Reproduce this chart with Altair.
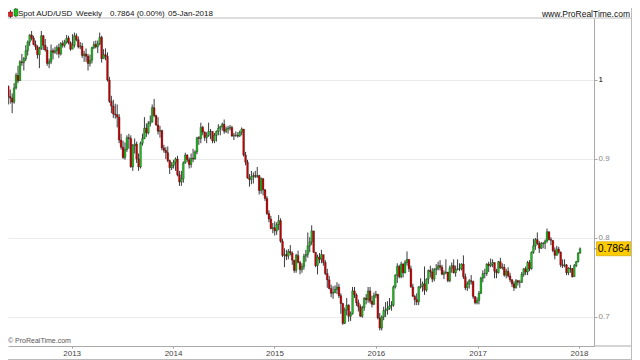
import altair as alt
import pandas as pd

# ---------------- weekly AUD/USD candles ----------------
c2012 = [0.9790, 0.9770, 0.9720, 0.9900, 1.0060, 0.9990, 1.0230, 1.0220, 1.0270, 1.0370, 1.0480,
         1.0570, 1.0530, 1.0450, 1.0420, 1.0320, 1.0400, 1.0560, 1.0440, 1.0380, 1.0210, 1.0230,
         1.0370, 1.0350, 1.0370, 1.0410, 1.0330, 1.0460, 1.0440, 1.0480, 1.0530, 1.0470, 1.0390]
h2012 = [0.9930, 0.9880, 0.9830, 0.9960, 1.0090, 1.0180, 1.0250, 1.0330, 1.0290, 1.0440, 1.0500,
         1.0580, 1.0620, 1.0560, 1.0500, 1.0440, 1.0420, 1.0620, 1.0570, 1.0520, 1.0420, 1.0270,
         1.0450, 1.0400, 1.0420, 1.0440, 1.0460, 1.0480, 1.0500, 1.0510, 1.0570, 1.0560, 1.0490]
l2012 = [0.9690, 0.9700, 0.9580, 0.9700, 0.9880, 0.9960, 0.9990, 1.0180, 1.0120, 1.0240, 1.0310,
         1.0430, 1.0500, 1.0440, 1.0380, 1.0270, 1.0150, 1.0380, 1.0380, 1.0360, 1.0180, 1.0150,
         1.0200, 1.0260, 1.0330, 1.0320, 1.0280, 1.0310, 1.0410, 1.0410, 1.0460, 1.0450, 1.0370]

c2013 = [1.0440, 1.0560, 1.0510, 1.0420, 1.0430, 1.0310, 1.0330, 1.0300, 1.0210, 1.0250, 1.0410,
         1.0450, 1.0420, 1.0460, 1.0540, 1.0270, 1.0320, 1.0300, 1.0000, 0.9730, 0.9670, 0.9570,
         0.9560, 0.9530, 0.9240, 0.9150, 0.9020, 0.9120, 0.9270, 0.9260, 0.8900, 0.9170, 0.9190,
         0.9000, 0.8900, 0.9200, 0.9260, 0.9390, 0.9330, 0.9450, 0.9470, 0.9650, 0.9550, 0.9430,
         0.9350, 0.9360, 0.9140, 0.9110, 0.9080, 0.8980, 0.8890, 0.8920]
h2013 = [1.0580, 1.0600, 1.0590, 1.0550, 1.0480, 1.0470, 1.0370, 1.0400, 1.0330, 1.0320, 1.0420,
         1.0490, 1.0500, 1.0500, 1.0600, 1.0560, 1.0390, 1.0400, 1.0350, 1.0040, 0.9800, 0.9750,
         0.9700, 0.9690, 0.9570, 0.9320, 0.9230, 0.9210, 0.9300, 0.9320, 0.9300, 0.9190, 0.9260,
         0.9220, 0.9070, 0.9220, 0.9320, 0.9530, 0.9450, 0.9480, 0.9550, 0.9690, 0.9760, 0.9560,
         0.9530, 0.9420, 0.9370, 0.9180, 0.9150, 0.9160, 0.8990, 0.8960]
l2013 = [1.0390, 1.0410, 1.0490, 1.0400, 1.0390, 1.0280, 1.0230, 1.0230, 1.0120, 1.0170, 1.0210,
         1.0390, 1.0400, 1.0340, 1.0440, 1.0220, 1.0270, 1.0250, 0.9980, 0.9710, 0.9580, 0.9520,
         0.9510, 0.9400, 0.9200, 0.9120, 0.9000, 0.8990, 0.9090, 0.9130, 0.8890, 0.8850, 0.9070,
         0.8950, 0.8850, 0.8880, 0.9170, 0.9250, 0.9280, 0.9310, 0.9410, 0.9460, 0.9530, 0.9420,
         0.9310, 0.9270, 0.9110, 0.9080, 0.9000, 0.8960, 0.8810, 0.8860]

c2014 = [0.8960, 0.9000, 0.8800, 0.8710, 0.8750, 0.8950, 0.9050, 0.8990, 0.8930, 0.9010, 0.9000,
         0.9090, 0.9270, 0.9260, 0.9400, 0.9340, 0.9270, 0.9300, 0.9350, 0.9350, 0.9230, 0.9300,
         0.9350, 0.9390, 0.9410, 0.9440, 0.9350, 0.9380, 0.9390, 0.9400, 0.9290, 0.9300, 0.9300,
         0.9290, 0.9340, 0.9380, 0.9050, 0.8960, 0.8760, 0.8740, 0.8780, 0.8790, 0.8780, 0.8790,
         0.8600, 0.8750, 0.8610, 0.8500, 0.8310, 0.8240, 0.8120, 0.8130]
h2014 = [0.8990, 0.9020, 0.9040, 0.8850, 0.8850, 0.8970, 0.9080, 0.9060, 0.9020, 0.9070, 0.9130,
         0.9110, 0.9280, 0.9290, 0.9460, 0.9420, 0.9350, 0.9340, 0.9460, 0.9380, 0.9350, 0.9330,
         0.9360, 0.9440, 0.9420, 0.9460, 0.9500, 0.9410, 0.9420, 0.9430, 0.9420, 0.9330, 0.9350,
         0.9340, 0.9360, 0.9400, 0.9380, 0.9090, 0.8990, 0.8810, 0.8850, 0.8830, 0.8850, 0.8900,
         0.8800, 0.8770, 0.8760, 0.8620, 0.8530, 0.8350, 0.8280, 0.8190]
l2014 = [0.8880, 0.8850, 0.8780, 0.8660, 0.8660, 0.8700, 0.8940, 0.8960, 0.8880, 0.8890, 0.8960,
         0.8990, 0.9060, 0.9180, 0.9200, 0.9300, 0.9230, 0.9200, 0.9280, 0.9250, 0.9200, 0.9200,
         0.9220, 0.9300, 0.9300, 0.9360, 0.9320, 0.9330, 0.9320, 0.9360, 0.9280, 0.9240, 0.9280,
         0.9270, 0.9280, 0.9300, 0.9030, 0.8920, 0.8750, 0.8650, 0.8680, 0.8690, 0.8760, 0.8760,
         0.8550, 0.8560, 0.8540, 0.8470, 0.8290, 0.8200, 0.8110, 0.8060]

c2015 = [0.8090, 0.8170, 0.8220, 0.7960, 0.7780, 0.7790, 0.7770, 0.7830, 0.7810, 0.7720, 0.7590,
         0.7780, 0.7690, 0.7600, 0.7640, 0.7770, 0.7790, 0.7900, 0.7950, 0.8090, 0.7820, 0.7650,
         0.7760, 0.7730, 0.7790, 0.7690, 0.7550, 0.7470, 0.7360, 0.7300, 0.7310, 0.7350, 0.7380,
         0.7270, 0.7170, 0.6920, 0.7090, 0.7150, 0.7010, 0.7040, 0.7330, 0.7280, 0.7180, 0.7130,
         0.7010, 0.7120, 0.7240, 0.7220, 0.7330, 0.7200, 0.7160, 0.7270]
h2015 = [0.8210, 0.8200, 0.8290, 0.8250, 0.7990, 0.7870, 0.7850, 0.7860, 0.7910, 0.7830, 0.7720,
         0.7800, 0.7840, 0.7710, 0.7680, 0.7800, 0.7850, 0.8070, 0.8010, 0.8160, 0.8090, 0.7820,
         0.7790, 0.7810, 0.7850, 0.7780, 0.7720, 0.7610, 0.7520, 0.7410, 0.7390, 0.7400, 0.7440,
         0.7420, 0.7300, 0.7180, 0.7120, 0.7240, 0.7160, 0.7070, 0.7380, 0.7380, 0.7300, 0.7220,
         0.7160, 0.7140, 0.7250, 0.7290, 0.7380, 0.7380, 0.7270, 0.7310]
l2015 = [0.8030, 0.8040, 0.8100, 0.7940, 0.7760, 0.7630, 0.7720, 0.7730, 0.7780, 0.7660, 0.7560,
         0.7560, 0.7680, 0.7540, 0.7560, 0.7600, 0.7700, 0.7750, 0.7820, 0.7910, 0.7810, 0.7630,
         0.7540, 0.7680, 0.7680, 0.7650, 0.7530, 0.7370, 0.7350, 0.7250, 0.7230, 0.7300, 0.7290,
         0.7240, 0.7040, 0.6900, 0.6910, 0.7020, 0.6940, 0.6950, 0.7030, 0.7240, 0.7140, 0.7070,
         0.7000, 0.6990, 0.7080, 0.7160, 0.7180, 0.7170, 0.7120, 0.7150]

c2016 = [0.7290, 0.6990, 0.6860, 0.7000, 0.7080, 0.7090, 0.7110, 0.7140, 0.7150, 0.7380, 0.7530,
         0.7640, 0.7510, 0.7670, 0.7560, 0.7690, 0.7730, 0.7610, 0.7380, 0.7260, 0.7220, 0.7190,
         0.7380, 0.7390, 0.7420, 0.7340, 0.7480, 0.7590, 0.7570, 0.7480, 0.7600, 0.7610, 0.7650,
         0.7630, 0.7540, 0.7560, 0.7570, 0.7460, 0.7620, 0.7650, 0.7560, 0.7600, 0.7610, 0.7610,
         0.7670, 0.7510, 0.7370, 0.7420, 0.7460, 0.7450, 0.7260, 0.7180, 0.7210]
h2016 = [0.7330, 0.7280, 0.7050, 0.7020, 0.7130, 0.7190, 0.7200, 0.7240, 0.7200, 0.7400, 0.7540,
         0.7680, 0.7660, 0.7700, 0.7680, 0.7720, 0.7830, 0.7720, 0.7650, 0.7420, 0.7280, 0.7300,
         0.7390, 0.7490, 0.7450, 0.7640, 0.7490, 0.7600, 0.7650, 0.7620, 0.7620, 0.7670, 0.7700,
         0.7720, 0.7660, 0.7590, 0.7730, 0.7570, 0.7650, 0.7690, 0.7730, 0.7650, 0.7730, 0.7680,
         0.7680, 0.7780, 0.7550, 0.7450, 0.7480, 0.7530, 0.7460, 0.7260, 0.7250]
l2016 = [0.7240, 0.6970, 0.6830, 0.6830, 0.6960, 0.7000, 0.7030, 0.7090, 0.7080, 0.7130, 0.7360,
         0.7430, 0.7490, 0.7490, 0.7500, 0.7550, 0.7650, 0.7570, 0.7370, 0.7260, 0.7150, 0.7150,
         0.7150, 0.7360, 0.7320, 0.7280, 0.7320, 0.7420, 0.7500, 0.7440, 0.7450, 0.7530, 0.7590,
         0.7590, 0.7530, 0.7480, 0.7540, 0.7440, 0.7440, 0.7560, 0.7550, 0.7510, 0.7590, 0.7580,
         0.7590, 0.7480, 0.7340, 0.7330, 0.7360, 0.7410, 0.7230, 0.7160, 0.7160]

c2017 = [0.7300, 0.7490, 0.7550, 0.7550, 0.7670, 0.7650, 0.7670, 0.7690, 0.7580, 0.7560, 0.7700,
         0.7620, 0.7630, 0.7530, 0.7580, 0.7520, 0.7470, 0.7420, 0.7370, 0.7460, 0.7440, 0.7440,
         0.7540, 0.7610, 0.7570, 0.7690, 0.7610, 0.7820, 0.7900, 0.7980, 0.7930, 0.7870, 0.7930,
         0.7930, 0.7960, 0.8080, 0.7980, 0.7970, 0.7840, 0.7780, 0.7860, 0.7820, 0.7660, 0.7650,
         0.7660, 0.7560, 0.7620, 0.7610, 0.7510, 0.7650, 0.7700, 0.7810]
h2017 = [0.7330, 0.7510, 0.7590, 0.7610, 0.7680, 0.7700, 0.7740, 0.7730, 0.7690, 0.7610, 0.7710,
         0.7750, 0.7680, 0.7670, 0.7610, 0.7630, 0.7560, 0.7480, 0.7450, 0.7480, 0.7470, 0.7470,
         0.7570, 0.7620, 0.7640, 0.7710, 0.7720, 0.7830, 0.7990, 0.8000, 0.8070, 0.7960, 0.7950,
         0.7950, 0.7980, 0.8120, 0.8080, 0.8010, 0.7970, 0.7880, 0.7900, 0.7890, 0.7830, 0.7730,
         0.7730, 0.7670, 0.7630, 0.7660, 0.7620, 0.7670, 0.7710, 0.7820]
l2017 = [0.7160, 0.7290, 0.7440, 0.7490, 0.7520, 0.7570, 0.7630, 0.7630, 0.7490, 0.7490, 0.7550,
         0.7610, 0.7600, 0.7510, 0.7490, 0.7500, 0.7440, 0.7380, 0.7330, 0.7360, 0.7400, 0.7370,
         0.7430, 0.7510, 0.7530, 0.7530, 0.7580, 0.7600, 0.7800, 0.7850, 0.7910, 0.7810, 0.7860,
         0.7870, 0.7860, 0.7940, 0.7970, 0.7910, 0.7820, 0.7730, 0.7780, 0.7800, 0.7630, 0.7620,
         0.7630, 0.7530, 0.7530, 0.7560, 0.7500, 0.7510, 0.7630, 0.7690]

c2018 = [0.7864]
h2018 = [0.7880]
l2018 = [0.7800]

first_open = 0.9920
closes = c2012 + c2013 + c2014 + c2015 + c2016 + c2017 + c2018
highs = h2012 + h2013 + h2014 + h2015 + h2016 + h2017 + h2018
lows = l2012 + l2013 + l2014 + l2015 + l2016 + l2017 + l2018
opens = [first_open] + closes[:-1]
dates = pd.date_range("2012-05-18", "2018-01-05", freq="W-FRI")

df = pd.DataFrame({"date": dates, "open": opens, "high": highs, "low": lows, "close": closes})

# labels
title_parts = ["Spot AUD/USD", "Weekly", f"{closes[-1]:.4f} (0.00%)", "05-Jan-2018"]
site = "www.ProRealTime.com"
copyright_txt = "\u00a9 ProRealTime.com"
year_ticks = [2013, 2014, 2015, 2016, 2017, 2018]
price_ticks = [0.7, 0.8, 0.9, 1.0]

GREEN = "#1cc01c"
RED = "#cc0000"
FONT = "Liberation Sans"

W, H = 586, 328          # plot area
TOTAL_W = 624
one = pd.DataFrame({"k": [0]})

xscale = alt.Scale(domain=[alt.DateTime(year=2012, month=5, date=17),
                           alt.DateTime(year=2018, month=2, date=24)], padding=0)
yscale = alt.Scale(domain=[0.66329, 1.07848], nice=False, zero=False, padding=0)

xaxis = alt.Axis(values=[alt.DateTime(year=y, month=1, date=1) for y in year_ticks], format="%Y",
                 labelFont=FONT, labelFontSize=8, labelColor="#444", tickSize=2, tickColor="#999",
                 domainColor="#aaa", labelPadding=1, grid=False, title=None, labelFlush=False)
yaxis = alt.Axis(orient="right", values=price_ticks,
                 labelExpr="datum.value == 1 ? '1' : format(datum.value, '.1f')",
                 labelColor={"condition": {"test": "datum.value == 1", "value": "#000"}, "value": "#888"},
                 labelFont=FONT, labelFontSize=8, tickSize=3, tickColor="#aaa", domainColor="#aaa",
                 grid=True, gridColor="#ebebeb", title=None, labelPadding=1)

base = alt.Chart(df)
wicks = base.mark_rule(color="#3a3a3a", strokeWidth=1, clip=True).encode(
    x=alt.X("date:T", scale=xscale, axis=xaxis),
    y=alt.Y("low:Q", scale=yscale, axis=yaxis),
    y2="high:Q",
)
bodies = base.mark_bar(size=1.8, clip=True, stroke="#111", strokeWidth=0.3).encode(
    x="date:T",
    y="open:Q",
    y2="close:Q",
    color=alt.condition("datum.close >= datum.open", alt.value(GREEN), alt.value(RED)),
)

oc = alt.Chart(one)
last = closes[-1]
price_tick = oc.mark_rule(color="#888").encode(x=alt.value(W), x2=alt.value(W + 3), y=alt.datum(last))
price_box = oc.mark_rect(color="#ffcc00", stroke="#caa100", strokeWidth=0.6, yOffset=-7, y2Offset=7).encode(
    x=alt.value(W + 2.5), x2=alt.value(TOTAL_W - 1), y=alt.datum(last), y2=alt.datum(last))
price_text = oc.mark_text(align="center", baseline="middle", font=FONT, fontSize=10.5, color="#000").encode(
    x=alt.value((W + 2.5 + TOTAL_W - 1) / 2), y=alt.datum(last), text=alt.value(f"{last:.4f}"))

top_line = oc.mark_rule(color="#bbb").encode(x=alt.value(0), x2=alt.value(TOTAL_W), y=alt.value(0))
axis_ext = oc.mark_rule(color="#aaa").encode(x=alt.value(W), x2=alt.value(TOTAL_W), y=alt.value(H))
right_border = oc.mark_rule(color="#bbb").encode(x=alt.value(TOTAL_W - 0.5), y=alt.value(-10), y2=alt.value(352))
bottom_border = oc.mark_rule(color="#bbb").encode(x=alt.value(0), x2=alt.value(TOTAL_W), y=alt.value(341.5))

# header icon (decoration)
icon_wicks = alt.Chart(pd.DataFrame({"x": [2.5, 7.8], "y1": [-8, -10], "y2": [0, -1]})).mark_rule(
    color="#555").encode(x=alt.X("x:Q", scale=None), y=alt.Y("y1:Q", scale=None), y2="y2:Q")
icon_red = oc.mark_rect(color="#dd2222", stroke="#600", strokeWidth=0.5).encode(
    x=alt.value(0.5), x2=alt.value(4.5), y=alt.value(-6), y2=alt.value(-1.5))
icon_green = oc.mark_rect(color="#22bb22", stroke="#050", strokeWidth=0.5).encode(
    x=alt.value(6), x2=alt.value(9.8), y=alt.value(-9), y2=alt.value(-2))

hdr = []
for txt, xpos in zip(title_parts, [10, 68, 102, 160]):
    hdr.append(oc.mark_text(align="left", baseline="middle", font=FONT, fontSize=8,
                            color="#111").encode(x=alt.value(xpos), y=alt.value(-4.5), text=alt.value(txt)))
hdr.append(oc.mark_text(align="right", baseline="middle", font=FONT, fontSize=8.5,
                        color="#111").encode(x=alt.value(TOTAL_W - 2), y=alt.value(-4.5), text=alt.value(site)))
copy_t = oc.mark_text(align="left", baseline="middle", font=FONT, fontSize=7, color="#555").encode(
    x=alt.value(0), y=alt.value(323), text=alt.value(copyright_txt))

chart = alt.layer(
    wicks, bodies, price_tick, price_box, price_text, top_line, axis_ext, right_border, bottom_border,
    icon_wicks, icon_red, icon_green, copy_t, *hdr
).properties(
    width=W, height=H,
    autosize=alt.AutoSizeParams(type="none"),
    padding={"left": 0, "top": 10, "right": TOTAL_W - W, "bottom": 14},
    background="white",
).configure_view(stroke=None)

chart.save("out.html", embed_options={"renderer": "svg", "actions": False})
